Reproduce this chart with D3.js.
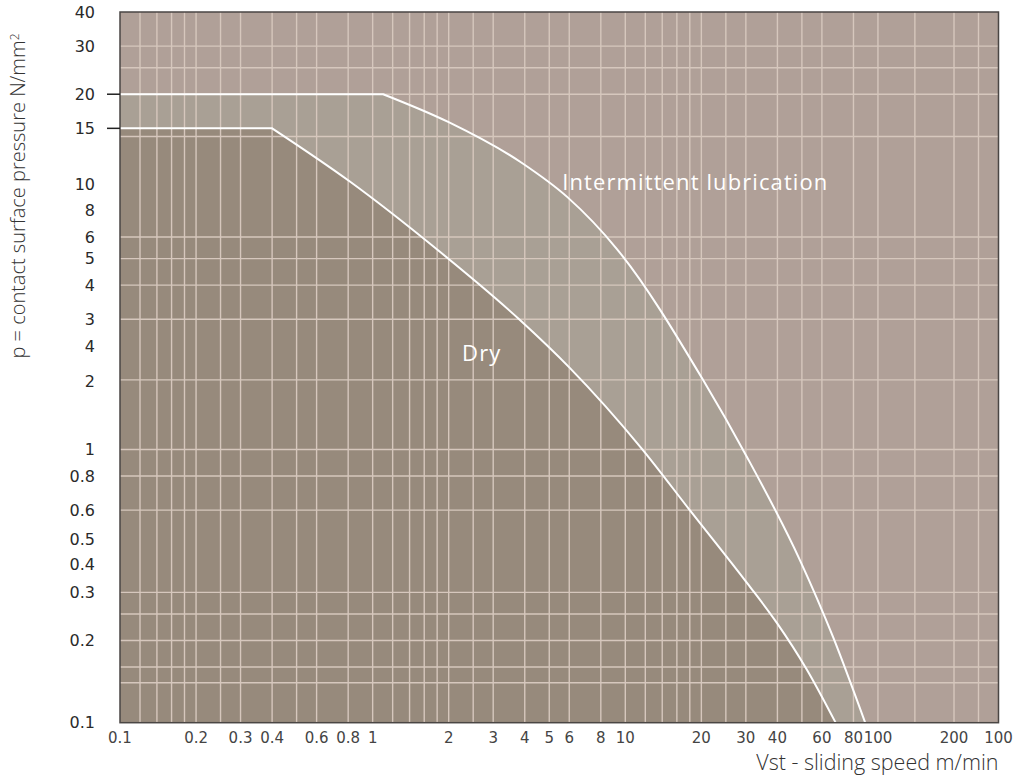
<!DOCTYPE html>
<html>
<head>
<meta charset="utf-8">
<script src="https://cdn.jsdelivr.net/npm/d3@7"></script>
<style>
  body { margin: 0; background: #fff; }
  svg { display: block; }
</style>
</head>
<body>
<div id="chart"></div>
<script>
// Curve data (speed m/min, pressure N/mm2)
var dryV = [0.1, 0.4, 0.81, 1.8, 3.8, 6.0, 11.7, 18.0, 30.3, 39.8, 52.4, 68];
var dryP = [15, 15, 9.6, 5.4, 3.0, 2.0, 1.0, 0.6, 0.325, 0.232, 0.156, 0.1];

var lubV = [0.1, 1.1, 2.0, 3.9, 5.9, 9.3, 20.3, 30.3, 49.1, 66.4, 89];
var lubP = [20, 20, 15.8, 11.2, 8.4, 5.4, 1.8, 0.94, 0.394, 0.206, 0.1];

// Tick labels as printed on the original (including its odd ones)
var xTickValues = [0.1, 0.2, 0.3, 0.4, 0.6, 0.8, 1, 2, 3, 4, 5, 6, 8, 10, 20, 30, 40, 60, 80, 100, 200, 300];
var xTickLabels = ["0.1", "0.2", "0.3", "0.4", "0.6", "0.8", "1", "2", "3", "4", "5", "6", "8", "10", "20", "30", "40", "60", "80", "100", "200", "100"];

var yTickValues = [40, 30, 20, 15, 9.4, 7.5, 6, 5, 4, 3, 2.38, 1.78, 1, 0.8, 0.6, 0.47, 0.38, 0.3, 0.2, 0.1];
var yTickLabels = ["40", "30", "20", "15", "10", "8", "6", "5", "4", "3", "4", "2", "1", "0.8", "0.6", "0.5", "0.4", "0.3", "0.2", "0.1"];
var yTickMarks = [20, 15];

// Grid lines
var xGrid = [0.12, 0.14, 0.16, 0.18, 0.2, 0.25, 0.3, 0.4, 0.5, 0.6, 0.8,
             1, 1.2, 1.4, 1.6, 1.8, 2, 2.5, 3, 4, 5, 6, 8,
             10, 12, 14, 16, 18, 20, 25, 30, 40, 50, 60, 80,
             100, 140, 200, 250];
var yGrid = [0.14, 0.16, 0.2, 0.25, 0.3, 0.6, 0.8, 1, 1.8, 3, 4, 5, 6, 14, 20, 25, 30];

// Region labels [speed, pressure, text]
var regionLabels = [[5.63, 8.92, "Intermittent lubrication"], [2.26, 2.11, "Dry"]];

var width = 1022, height = 778;
var margin = { top: 12, right: 23.5, bottom: 55.3, left: 120 };

var svg = d3.select("#chart")
  .append("svg")
  .attr("width", width)
  .attr("height", height);

var x = d3.scaleLog()
  .domain([0.1, 300])
  .range([margin.left, width - margin.right]);

var y = d3.scaleLog()
  .domain([0.1, 40])
  .range([height - margin.bottom, margin.top]);

var x0 = x.range()[0], x1 = x.range()[1];
var y0 = y.range()[0], y1 = y.range()[1];

// Background
svg.append("rect")
  .attr("x", x0).attr("y", y1)
  .attr("width", x1 - x0).attr("height", y0 - y1)
  .attr("fill", "#b0a098");

// Build a path: flat start segment, then smooth curve to the bottom
var line = d3.line()
  .x(function(d) { return x(d[0]); })
  .y(function(d) { return y(d[1]); })
  .curve(d3.curveMonotoneX);

function curvePath(vs, ps) {
  var pts = d3.zip(vs, ps);
  var c = line(pts.slice(1));
  return "M" + x(pts[0][0]) + "," + y(pts[0][1]) + "L" + c.slice(1);
}

var lubPath = curvePath(lubV, lubP);
var dryPath = curvePath(dryV, dryP);

svg.append("path")
  .attr("d", lubPath + "L" + x(0.1) + "," + y(0.1) + "Z")
  .attr("fill", "#a9a095");

svg.append("path")
  .attr("d", dryPath + "L" + x(0.1) + "," + y(0.1) + "Z")
  .attr("fill", "#978a7c");

// Grid
svg.append("g").selectAll("line")
  .data(xGrid)
  .enter().append("line")
  .attr("x1", function(d) { return x(d); })
  .attr("x2", function(d) { return x(d); })
  .attr("y1", y1).attr("y2", y0)
  .attr("stroke", "#d6c7bd")
  .attr("stroke-width", 1.4);

svg.append("g").selectAll("line")
  .data(yGrid)
  .enter().append("line")
  .attr("y1", function(d) { return y(d); })
  .attr("y2", function(d) { return y(d); })
  .attr("x1", x0).attr("x2", x1)
  .attr("stroke", "#d6c7bd")
  .attr("stroke-width", 1.4);

// Curves
[lubPath, dryPath].forEach(function(p) {
  svg.append("path")
    .attr("d", p)
    .attr("fill", "none")
    .attr("stroke", "#fff")
    .attr("stroke-width", 2);
});

// Frame
svg.append("rect")
  .attr("x", x0).attr("y", y1)
  .attr("width", x1 - x0).attr("height", y0 - y1)
  .attr("fill", "none")
  .attr("stroke", "#4a4644")
  .attr("stroke-width", 1.5);

// Y tick marks at 20 and 15
svg.append("g").selectAll("line")
  .data(yTickMarks)
  .enter().append("line")
  .attr("x1", x0 - 13).attr("x2", x0)
  .attr("y1", function(d) { return y(d); })
  .attr("y2", function(d) { return y(d); })
  .attr("stroke", "#222")
  .attr("stroke-width", 1.5);

// Y tick labels
svg.append("g").selectAll("text")
  .data(yTickValues)
  .enter().append("text")
  .attr("x", 95)
  .attr("y", function(d) { return y(d); })
  .attr("dy", "0.36em")
  .attr("text-anchor", "end")
  .attr("font-family", "DejaVu Sans, sans-serif")
  .attr("font-size", 16)
  .attr("fill", "#2a2a2a")
  .text(function(d, i) { return yTickLabels[i]; });

// X tick labels
svg.append("g").selectAll("text")
  .data(xTickValues)
  .enter().append("text")
  .attr("x", function(d) { return x(d); })
  .attr("y", y0 + 20)
  .attr("text-anchor", "middle")
  .attr("font-family", "DejaVu Sans, sans-serif")
  .attr("font-size", 15)
  .attr("fill", "#444")
  .text(function(d, i) { return xTickLabels[i]; });

// Axis titles
svg.append("text")
  .attr("x", x1)
  .attr("y", 770)
  .attr("text-anchor", "end")
  .attr("font-family", "Open Sans, sans-serif")
  .attr("font-weight", 300)
  .attr("font-size", 21.5)
  .attr("fill", "#333")
  .text("Vst - sliding speed m/min");

var yt = svg.append("text")
  .attr("transform", "translate(25,196) rotate(-90)")
  .attr("text-anchor", "middle")
  .attr("font-family", "Open Sans, sans-serif")
  .attr("font-weight", 300)
  .attr("font-size", 20)
  .attr("fill", "#333");
yt.append("tspan").text("p = contact surface pressure N/mm");
yt.append("tspan").attr("dy", "-0.5em").attr("font-size", 12).text("2");

// Region labels
svg.append("g").selectAll("text")
  .data(regionLabels)
  .enter().append("text")
  .attr("x", function(d) { return x(d[0]); })
  .attr("y", function(d) { return y(d[1]); })
  .attr("font-family", "Open Sans, sans-serif")
  .attr("font-size", 22)
  .attr("letter-spacing", 1.1)
  .attr("fill", "#fff")
  .text(function(d) { return d[2]; });
</script>
</body>
</html>
